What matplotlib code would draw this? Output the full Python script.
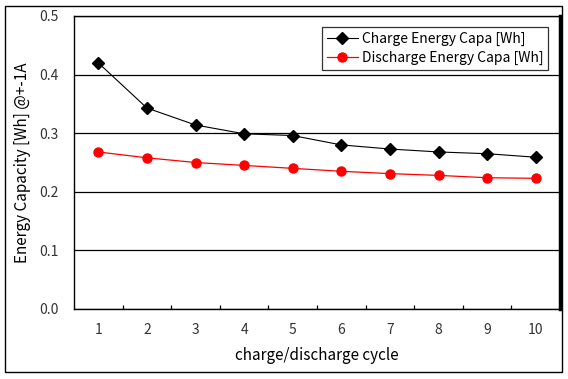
import matplotlib
matplotlib.use("Agg")
import matplotlib.pyplot as plt
from matplotlib.patches import Rectangle
from matplotlib.ticker import FixedLocator, MultipleLocator

plt.rcParams["font.family"] = ["Noto Sans CJK KR", "DejaVu Sans"]

cycles = [1, 2, 3, 4, 5, 6, 7, 8, 9, 10]
charge = [0.420, 0.343, 0.314, 0.299, 0.296, 0.280, 0.273, 0.268, 0.265, 0.259]
discharge = [0.268, 0.258, 0.250, 0.245, 0.240, 0.235, 0.231, 0.228, 0.224, 0.223]

COLOR_TEXT = "#333333"

fig = plt.figure(figsize=(5.68, 3.79), dpi=100)
ax = fig.add_axes([74 / 568, 70 / 379, 486 / 568, 293 / 379])

# outer chart border
fig.patches.append(Rectangle((5 / 568, 7 / 379), 557 / 568, 366 / 379,
                             transform=fig.transFigure, fill=False,
                             edgecolor="black", linewidth=1.0))

ax.plot(cycles, charge, color="black", linewidth=0.8, marker="D",
        markersize=6.3, label="Charge Energy Capa [Wh]")
ax.plot(cycles, discharge, color="red", linewidth=0.9, marker="o",
        markersize=6.5, label="Discharge Energy Capa [Wh]")

ax.set_xlim(0.5, 10.5)
ax.set_ylim(0, 0.5)

ax.yaxis.set_major_locator(MultipleLocator(0.1))
ax.yaxis.set_major_formatter(plt.FuncFormatter(lambda v, p: f"{v:.1f}"))
ax.grid(axis="y", color="black", linewidth=0.9)
ax.set_axisbelow(True)

ax.xaxis.set_major_locator(FixedLocator(cycles))
ax.xaxis.set_minor_locator(FixedLocator([c + 0.5 for c in cycles[:-1]]))
ax.tick_params(axis="x", which="major", length=0, pad=10, labelsize=10,
               labelcolor=COLOR_TEXT)
ax.tick_params(axis="x", which="minor", direction="in", length=3,
               width=0.9, color="black")
ax.tick_params(axis="y", length=0, pad=11, labelsize=10, labelcolor=COLOR_TEXT)

for side in ("top", "left", "bottom"):
    ax.spines[side].set_linewidth(1.0)
ax.spines["right"].set_linewidth(2.5)

ax.set_xlabel("charge/discharge cycle", fontsize=11, fontweight="medium",
              labelpad=7)
ax.set_ylabel("Energy Capacity [Wh] @+-1A", fontsize=11, fontweight="medium",
              labelpad=6)

leg = ax.legend(loc="upper right", bbox_to_anchor=(0.99, 0.985),
                fontsize=10, frameon=True, fancybox=False, edgecolor="black",
                handlelength=2.2, borderpad=0.35, labelspacing=0.3,
                handletextpad=0.3)
leg.get_frame().set_linewidth(0.9)

fig.savefig("out.png", dpi=100)
